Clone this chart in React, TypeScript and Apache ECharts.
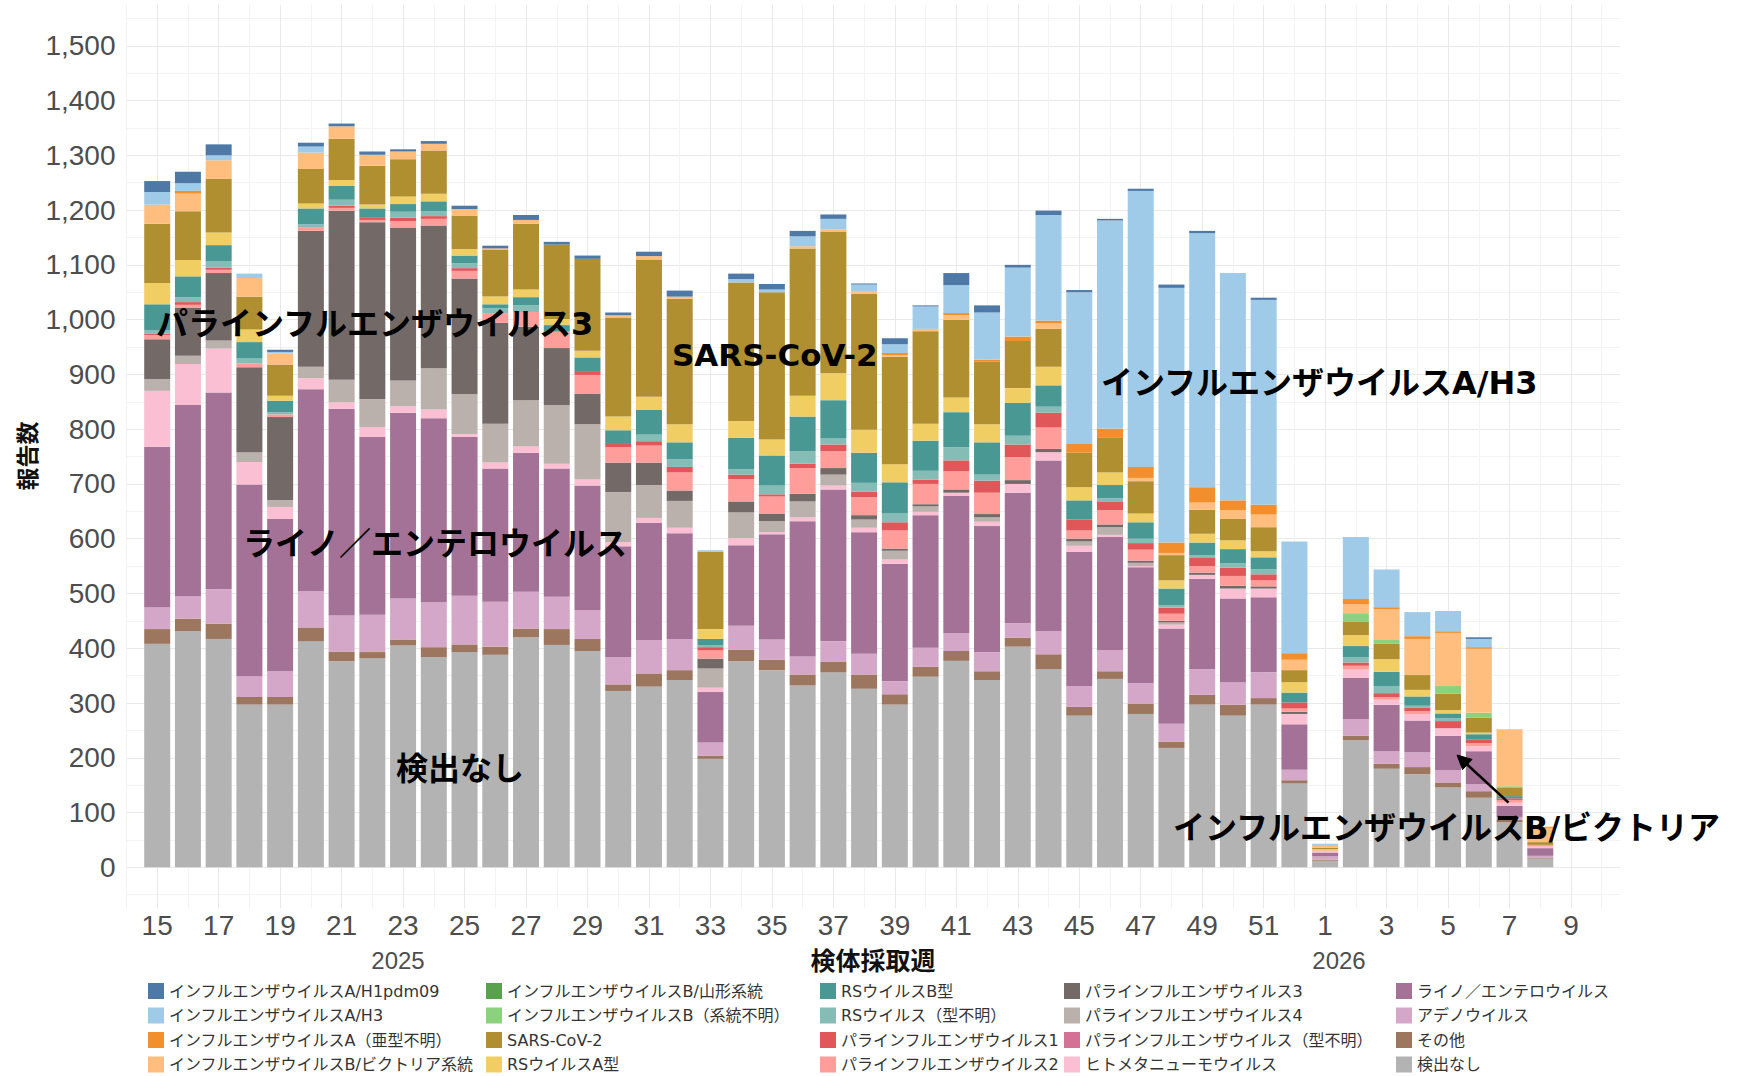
import React, { useEffect, useRef } from 'react';
import * as echarts from 'echarts';

// Week categories (2025 wk15 .. 2026 wk9)
const WEEKS = ['15','16','17','18','19','20','21','22','23','24','25','26','27','28','29','30','31','32','33','34','35','36','37','38','39','40','41','42','43','44','45','46','47','48','49','50','51','52','1','2','3','4','5','6','7','8','9'];

// Series values per week (index 0 = 2025 wk15)
const NONE = [408,431,417,297,297,413,376,382,405,384,393,388,420,406,395,322,330,342,198,376,360,332,356,326,297,348,377,342,403,362,277,344,280,218,297,277,297,153,12,232,180,170,146,127,82,16];
const OTHER = [27,23,28,14,14,25,18,11,11,18,14,15,16,29,22,12,24,18,6,21,19,20,19,26,19,18,18,16,16,27,16,14,19,11,18,20,12,6,2,8,9,13,9,12,5,2];
const ADENO = [40,41,63,38,47,66,66,68,75,82,89,82,67,59,53,50,61,57,24,44,37,33,38,38,24,35,33,35,27,42,38,39,37,33,47,41,47,19,6,31,23,27,22,13,5,3];
const RHINO = [293,349,359,350,278,369,377,325,339,336,290,243,254,234,227,202,214,193,92,147,192,247,277,222,214,242,250,230,238,312,245,206,212,174,165,153,137,83,7,75,85,58,63,60,20,14];
const HMPV = [102,75,80,41,22,20,12,18,12,16,5,11,12,9,11,8,9,10,8,13,4,7,7,8,8,6,6,8,16,15,11,4,2,7,7,18,16,19,2,15,9,12,14,9,6,3];
const PARA_U = [0,0,0,0,0,0,0,0,0,0,0,0,0,0,0,0,0,0,0,0,0,0,0,0,0,0,0,0,0,0,0,0,0,0,0,0,0,0,0,0,0,0,0,0,0,0];
const PARA4 = [21,15,15,18,12,21,41,51,47,75,73,71,84,107,101,91,60,49,35,47,20,29,20,15,16,10,0,8,0,0,8,14,6,4,0,0,0,0,0,0,0,0,0,0,0,0];
const PARA3 = [73,88,123,155,152,248,309,323,279,261,211,184,134,104,56,54,41,19,18,20,14,14,12,8,4,4,6,6,7,6,5,5,4,3,4,5,4,4,0,0,0,0,0,0,0,0];
const PARA2 = [8,5,6,7,5,7,5,4,12,12,14,18,27,30,34,28,31,33,15,41,31,47,31,33,33,37,33,39,42,39,15,26,20,13,12,18,11,6,2,7,5,5,0,6,5,3];
const PARA1 = [2,5,4,0,0,0,4,5,6,5,5,0,0,0,7,6,8,10,6,8,4,8,12,10,15,8,20,22,23,27,20,15,12,11,16,15,11,11,0,6,7,6,13,6,3,0];
const RS_U = [7,9,12,9,4,5,11,0,11,9,9,9,12,0,0,0,12,14,3,10,16,23,11,16,16,16,24,11,16,11,0,7,8,5,4,8,9,0,0,10,13,4,5,0,0,0];
const RS_B = [47,38,29,30,21,29,25,16,14,18,14,7,15,12,25,25,45,31,12,57,55,63,70,55,57,55,64,59,60,39,35,24,30,30,23,26,22,18,0,20,26,17,9,10,4,0];
const RS_A = [39,30,23,23,9,9,11,7,14,14,12,14,14,11,12,25,24,33,18,31,29,38,49,42,33,31,27,33,27,34,24,23,16,15,16,16,11,19,2,20,23,12,6,3,0,0];
const SARS = [108,89,98,60,57,63,75,71,68,79,61,86,120,136,168,181,251,229,141,253,269,269,259,248,196,169,142,114,86,69,63,63,59,46,44,39,44,22,3,24,28,27,30,27,16,5];
const FLU_B_U = [0,0,0,0,0,0,0,0,0,0,0,0,0,0,0,0,0,0,0,0,0,0,0,0,0,0,0,0,0,0,0,0,0,0,0,0,0,0,0,16,7,0,14,9,2,0];
const FLU_B_Y = [0,0,0,0,0,0,0,0,0,0,0,0,0,0,0,0,0,0,0,0,0,0,0,0,0,0,0,0,0,0,0,0,0,0,0,0,0,0,0,0,0,0,0,0,0,0];
const FLU_B_V = [35,32,34,34,20,30,23,20,14,12,12,2,7,0,0,4,6,4,0,0,0,4,4,4,3,4,8,0,0,10,0,0,6,4,13,16,23,19,3,16,56,66,97,117,104,26];
const FLU_A_U = [0,5,0,0,0,0,0,0,0,0,0,0,0,0,0,0,0,0,0,0,0,0,0,0,4,0,4,4,8,5,16,17,20,19,28,18,18,12,1,10,4,5,3,3,0,2];
const H3 = [23,14,9,8,3,11,0,0,0,0,0,0,0,0,0,0,0,0,3,6,5,18,19,13,16,41,51,86,126,193,277,380,504,465,464,415,374,204,3,113,69,44,37,15,0,0];
const H1 = [20,21,20,0,4,7,5,6,4,5,6,5,9,5,6,5,8,11,0,10,10,10,8,2,11,2,22,13,5,8,4,3,4,6,4,0,4,0,0,0,0,0,0,3,0,0];

// Stack order bottom -> top
const SERIES_DEF: { name: string; color: string; data: number[] }[] = [
  { name: '検出なし', color: '#B3B3B3', data: NONE },
  { name: 'その他', color: '#9D7660', data: OTHER },
  { name: 'アデノウイルス', color: '#D4A6C8', data: ADENO },
  { name: 'ライノ／エンテロウイルス', color: '#A47296', data: RHINO },
  { name: 'ヒトメタニューモウイルス', color: '#FABFD2', data: HMPV },
  { name: 'パラインフルエンザウイルス（型不明）', color: '#D37295', data: PARA_U },
  { name: 'パラインフルエンザウイルス4', color: '#BAB0AC', data: PARA4 },
  { name: 'パラインフルエンザウイルス3', color: '#736A68', data: PARA3 },
  { name: 'パラインフルエンザウイルス2', color: '#FF9D9A', data: PARA2 },
  { name: 'パラインフルエンザウイルス1', color: '#E15759', data: PARA1 },
  { name: 'RSウイルス（型不明）', color: '#86BCB6', data: RS_U },
  { name: 'RSウイルスB型', color: '#499894', data: RS_B },
  { name: 'RSウイルスA型', color: '#F1CE63', data: RS_A },
  { name: 'SARS-CoV-2', color: '#B08F30', data: SARS },
  { name: 'インフルエンザウイルスB（系統不明）', color: '#8CD17D', data: FLU_B_U },
  { name: 'インフルエンザウイルスB/山形系統', color: '#59A14F', data: FLU_B_Y },
  { name: 'インフルエンザウイルスB/ビクトリア系統', color: '#FFBE7D', data: FLU_B_V },
  { name: 'インフルエンザウイルスA（亜型不明）', color: '#F28E2B', data: FLU_A_U },
  { name: 'インフルエンザウイルスA/H3', color: '#A0CBE8', data: H3 },
  { name: 'インフルエンザウイルスA/H1pdm09', color: '#4E79A7', data: H1 },
];

const LEGEND_COLUMNS = [
  ['インフルエンザウイルスA/H1pdm09', 'インフルエンザウイルスA/H3', 'インフルエンザウイルスA（亜型不明）', 'インフルエンザウイルスB/ビクトリア系統'],
  ['インフルエンザウイルスB/山形系統', 'インフルエンザウイルスB（系統不明）', 'SARS-CoV-2', 'RSウイルスA型'],
  ['RSウイルスB型', 'RSウイルス（型不明）', 'パラインフルエンザウイルス1', 'パラインフルエンザウイルス2'],
  ['パラインフルエンザウイルス3', 'パラインフルエンザウイルス4', 'パラインフルエンザウイルス（型不明）', 'ヒトメタニューモウイルス'],
  ['ライノ／エンテロウイルス', 'アデノウイルス', 'その他', '検出なし'],
];
const LEGEND_X = [148, 486, 820, 1064, 1396];

const JP = '"Noto Sans CJK JP", "Noto Sans", sans-serif';
const LEG = '"DejaVu Sans", "Noto Sans CJK JP", sans-serif';
const ANN = '"DejaVu Sans", "Noto Sans CJK JP", sans-serif';
const LAT = '"Liberation Sans", Arial, sans-serif';

// Layout (px)
const STEP = 30.735;
const FIRST_X = 157.2;
const Y_MIN = -75;
const Y_MAX = 1575;
const TOP = 4.7;
const BOTTOM = 167.6;

export default function App() {
  const ref = useRef<HTMLDivElement>(null);
  useEffect(() => {
    if (!ref.current) return;
    const chart = echarts.init(ref.current, null, { renderer: 'svg' });
    const series: any[] = SERIES_DEF.map((s) => ({
      name: s.name,
      type: 'bar',
      stack: 'total',
      xAxisIndex: 0,
      yAxisIndex: 0,
      barWidth: 26,
      itemStyle: { color: s.color },
      emphasis: { disabled: true },
      data: s.data,
    }));

    const annot = (text: string, x: number, y: number, size = 32) => ({
      type: 'text',
      x,
      y,
      z: 100,
      style: {
        text,
        font: `bold ${size}px ${ANN}`,
        fill: '#000',
        align: 'left',
        verticalAlign: 'middle',
        textAlign: 'left',
        textVerticalAlign: 'middle',
      },
    });

    const barLeft = FIRST_X - STEP / 2;
    const barRight = 1748 - (FIRST_X + (WEEKS.length - 0.5) * STEP);
    const panelLeft = FIRST_X - STEP;
    const panelRight = 1748 - (FIRST_X + 47.6 * STEP);

    const option: any = {
      animation: false,
      backgroundColor: '#ffffff',
      grid: [
        { left: barLeft, right: barRight, top: TOP, bottom: BOTTOM, containLabel: false },
        { left: panelLeft, right: panelRight, top: TOP, bottom: BOTTOM, containLabel: false },
      ],
      xAxis: [
        {
          gridIndex: 0,
          type: 'category',
          data: WEEKS,
          show: false,
        },
        {
          gridIndex: 1,
          type: 'value',
          min: -1,
          max: 47.6,
          interval: 1,
          axisLine: { show: false, onZero: false },
          axisTick: { show: false },
          axisLabel: {
            margin: 5,
            fontSize: 28,
            lineHeight: 24,
            fontFamily: LAT,
            color: '#4d4d4d',
            formatter: (v: number) =>
              Number.isInteger(v) && v >= 0 && v < WEEKS.length && v % 2 === 0 ? WEEKS[v] : '',
          },
          splitLine: {
            show: true,
            showMaxLine: false,
            lineStyle: { color: ['#f3f3f3', '#e9e9e9'], width: 1 },
          },
        },
      ],
      yAxis: [
        {
          gridIndex: 0,
          type: 'value',
          min: Y_MIN,
          max: Y_MAX,
          show: false,
          splitLine: { show: false },
        },
        {
          gridIndex: 1,
          type: 'value',
          min: Y_MIN,
          max: Y_MAX,
          interval: 25,
          axisLine: { show: false, onZero: false },
          axisTick: { show: false },
          axisLabel: {
            margin: 11,
            fontSize: 28,
            fontFamily: LAT,
            color: '#4d4d4d',
            formatter: (v: number) =>
              v >= 0 && v <= 1500 && v % 100 === 0 ? v.toLocaleString('en-US') : '',
          },
          splitLine: {
            show: true,
            lineStyle: { color: ['rgba(0,0,0,0)', '#f3f3f3', 'rgba(0,0,0,0)', '#e9e9e9'], width: 1 },
          },
        },
      ],
      legend: LEGEND_COLUMNS.map((names, k) => ({
        orient: 'vertical',
        left: LEGEND_X[k],
        top: 982,
        padding: 0,
        data: names,
        icon: 'rect',
        itemWidth: 16,
        itemHeight: 16,
        itemGap: 6.5,
        selectedMode: false,
        textStyle: { fontSize: 16, lineHeight: 18, color: '#333', fontFamily: LEG },
      })),
      series,
      graphic: [
        annot('パラインフルエンザウイルス3', 156, 324),
        annot('SARS-CoV-2', 672, 355, 31),
        annot('インフルエンザウイルスA/H3', 1101, 383),
        annot('ライノ／エンテロウイルス', 243, 544),
        annot('検出なし', 396, 769),
        annot('インフルエンザウイルスB/ビクトリア', 1173, 828),
        {
          type: 'line',
          z: 100,
          shape: { x1: 1508.5, y1: 802.7, x2: 1465, y2: 762.5 },
          style: { stroke: '#000', lineWidth: 2.5 },
        },
        {
          type: 'polygon',
          z: 100,
          shape: { points: [[1457, 755], [1472.0, 759.4], [1462.6, 769.6]] },
          style: { fill: '#000', stroke: '#000', lineWidth: 1 },
        },
        {
          type: 'text',
          x: 398,
          y: 960,
          style: { text: '2025', font: `24px ${LAT}`, fill: '#4d4d4d', align: 'center', verticalAlign: 'middle', textAlign: 'center', textVerticalAlign: 'middle' },
        },
        {
          type: 'text',
          x: 1339,
          y: 960,
          style: { text: '2026', font: `24px ${LAT}`, fill: '#4d4d4d', align: 'center', verticalAlign: 'middle', textAlign: 'center', textVerticalAlign: 'middle' },
        },
        {
          type: 'text',
          x: 873,
          y: 959,
          style: { text: '検体採取週', font: `bold 25px ${JP}`, fill: '#111', align: 'center', verticalAlign: 'middle', textAlign: 'center', textVerticalAlign: 'middle' },
        },
        {
          type: 'text',
          x: 25.6,
          y: 456,
          rotation: Math.PI / 2,
          style: { text: '報告数', font: `bold 23px ${JP}`, fill: '#111', align: 'center', verticalAlign: 'middle', textAlign: 'center', textVerticalAlign: 'middle' },
        },
      ],
    };
    chart.setOption(option);
    return () => chart.dispose();
  }, []);
  return (
    <div
      ref={ref}
      style={{ position: 'absolute', left: 0, top: 0, width: 1748, height: 1076, background: '#fff' }}
    />
  );
}
